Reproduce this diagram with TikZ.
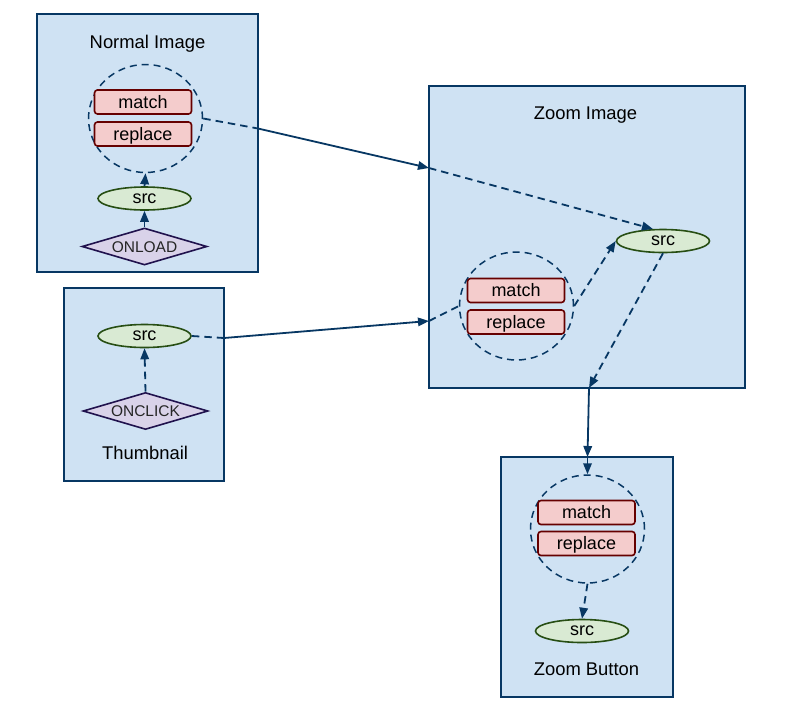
\documentclass[tikz,border=0pt]{standalone}
\usepackage{fontspec}
\setmainfont{Liberation Sans}
\usetikzlibrary{shapes.geometric,arrows.meta}
\definecolor{clfill}{HTML}{CFE2F3}
\definecolor{cldraw}{HTML}{073763}
\definecolor{mfill}{HTML}{F4CCCC}
\definecolor{mdraw}{HTML}{660000}
\definecolor{sfill}{HTML}{D9EAD3}
\definecolor{sdraw}{HTML}{274E13}
\definecolor{dfill}{HTML}{D9D2E9}
\definecolor{ddraw}{HTML}{20124D}
\definecolor{edgec}{HTML}{073763}
\begin{document}
\begin{tikzpicture}[x=1pt,y=-1pt,
  cluster/.style={draw=cldraw,fill=clfill,line width=1.6pt,rectangle,inner sep=0pt},
  title/.style={anchor=base,font=\fontsize{18.4}{20}\selectfont,inner sep=0pt},
  group/.style={draw=cldraw,ellipse,dash pattern=on 7pt off 5pt,line width=1.5pt,minimum width=114pt,minimum height=108pt,inner sep=0pt},
  rule/.style={draw=mdraw,fill=mfill,rounded corners=3pt,line width=1.6pt,minimum width=97pt,minimum height=24pt,inner sep=0pt,font=\fontsize{18}{20}\selectfont,text height=12.6pt,text depth=0pt},
  srcnode/.style={ellipse,draw=sdraw,fill=sfill,line width=1.6pt,minimum width=93pt,minimum height=23pt,inner sep=0pt,font=\fontsize{18}{20}\selectfont,text height=9.3pt,text depth=0pt},
  event/.style={diamond,aspect=3.4,draw=ddraw,fill=dfill,line width=1.6pt,minimum width=125pt,minimum height=37pt,inner sep=0pt,font=\fontsize{15.5}{17}\selectfont,text=black!85,text height=11.1pt,text depth=0pt},
  edge/.style={draw=edgec,line width=1.8pt,-{Triangle[length=11pt,width=8.5pt]}},
  dline/.style={dash pattern=on 7.5pt off 5pt},
  plain/.style={-}
]
\useasboundingbox (0,0) rectangle (791,720);

% clusters
\node[cluster,minimum width=221pt,minimum height=258pt] (normal) at (147.5,143) {};
\node[cluster,minimum width=160pt,minimum height=193pt] (thumb) at (144,384.5) {};
\node[cluster,minimum width=316pt,minimum height=302pt] (zimg) at (587,237) {};
\node[cluster,minimum width=172pt,minimum height=240pt] (zbtn) at (587,577) {};

\node[title] (tnormal) at (147.5,48) {Normal Image};
\node[title] (tthumb) at (145,459) {Thumbnail};
\node[title] (tzimg) at (585.5,119.5) {Zoom Image};
\node[title] (tzbtn) at (586.5,675) {Zoom Button};

% Normal Image
\node[group] (ncirc) at (145.5,118.5) {};
\node[rule] (nmatch) at (143,102) {match};
\node[rule] (nrepl) at (143,134) {replace};
\node[srcnode] (nsrc) at (144.5,198.5) {src};
\node[event] (onload) at (144.5,246.5) {ONLOAD};

% Thumbnail
\node[srcnode] (tsrc) at (144.5,336) {src};
\node[event] (onclick) at (145.5,411) {ONCLICK};

% Zoom Image
\node[group] (zcirc) at (516.5,306) {};
\node[rule] (zmatch) at (516,290.5) {match};
\node[rule] (zrepl) at (516,322) {replace};
\node[srcnode] (zsrc) at (663,241) {src};

% Zoom Button
\node[group] (zbcirc) at (587.5,529) {};
\node[rule] (zbmatch) at (586.5,512.5) {match};
\node[rule] (zbrepl) at (586.5,543.5) {replace};
\node[srcnode] (zbsrc) at (582,631) {src};

% edges inside clusters
\draw[edge,dline] (onload.north) -- (nsrc.south);
\draw[edge,dline] (nsrc.north) -- (ncirc.south);
\draw[edge,dline] (onclick.north) -- (tsrc.south);
\draw[edge,dline] (zcirc.east) -- (zsrc.west);
\draw[edge,dline] (zbcirc.south) -- (zbsrc.north);

% Normal Image -> Zoom Image -> src
\coordinate (a1) at (258,128.5);
\coordinate (a2) at (429,168);
\draw[edge,dline,plain] (ncirc.east) -- (a1);
\draw[edge] (a1) -- (a2);
\draw[edge,dline] (a2) -- (zsrc.130);

% Thumbnail -> Zoom Image
\coordinate (b1) at (224,338);
\coordinate (b2) at (429,321);
\draw[edge,dline,plain] (tsrc.east) -- (b1);
\draw[edge] (b1) -- (b2);
\draw[edge,dline,plain] (b2) -- (zcirc.west);

% Zoom Image src -> Zoom Button
\coordinate (c1) at (589,388);
\coordinate (c2) at (587.5,457);
\draw[edge,dline] (zsrc.south) -- (c1);
\draw[edge] (c1) -- (c2);
\draw[edge,dline] (c2) -- (zbcirc.north);
\end{tikzpicture}
\end{document}
